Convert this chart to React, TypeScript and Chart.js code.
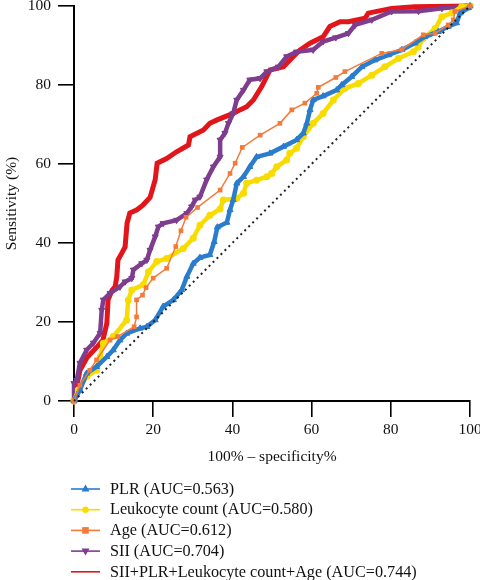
import React, { useEffect, useRef } from "react";
import { Chart, registerables } from "chart.js";

Chart.register(...registerables);

// ---------- data ----------
const plrX = [0, 1.5, 3.2, 5.7, 8.3, 9.9, 11.6, 13.3, 16.7, 18.4, 20.5, 22.5, 25.1, 27.2, 28.5, 30.1, 31.8, 34.3, 35.4, 36.2, 38.6, 39.4, 40.2, 41.1, 42.8, 44.4, 46.1, 49.5, 52.9, 56.2, 57.9, 58.8, 59.6, 60.4, 62.9, 66.3, 67.6, 70.1, 72.7, 76, 79.4, 82.8, 86.1, 88.6, 92, 94.5, 96.6, 97.5, 99.6, 100];
const plrY = [0, 2.8, 7, 8.7, 11.2, 12.9, 15.4, 17.1, 18.4, 18.8, 20.5, 23.9, 25.6, 28.1, 31.5, 34.8, 36.3, 37, 40.3, 44, 45.2, 48.4, 50.9, 55.1, 56.8, 59.3, 61.8, 62.7, 64.4, 66.1, 67.8, 70.3, 73.7, 76.2, 77.2, 78.7, 80, 82.1, 84.6, 86.3, 87.6, 88.9, 90.6, 92.2, 93.5, 94.8, 95.7, 98.2, 99.5, 100];

const leukX = [0, 1.1, 3.2, 5.7, 6.6, 7.4, 9.9, 13.3, 13.7, 14.6, 17.5, 18.8, 20.9, 23.4, 27.6, 30.1, 31.8, 34.3, 36.9, 37.7, 41.1, 42.8, 43.6, 46.1, 48.7, 49.9, 51.2, 53.7, 54.5, 56.2, 57.9, 60.4, 62.9, 65.5, 68.4, 71.8, 75.2, 78.5, 81.9, 85.7, 86.9, 88.2, 91.2, 92.9, 95.4, 97.9, 100];
const leukY = [0, 2.8, 6.2, 7.8, 11.2, 14.6, 16.3, 20.5, 25.6, 28.1, 29.4, 32.7, 35.3, 36.1, 38.6, 41.2, 44.5, 47, 48.6, 50.9, 51.3, 52.6, 55.1, 55.9, 56.8, 57.6, 59.3, 61, 62.7, 64, 66.9, 70.3, 72.8, 76.2, 79.1, 80.4, 82.5, 84.6, 86.7, 88.4, 89.6, 91.8, 94.3, 97.3, 98.2, 99.8, 100];

const ageX = [0, 1.5, 4, 5.7, 9.1, 11, 15.2, 15.8, 15.8, 17.3, 18.2, 20, 23.4, 25.7, 27, 28.3, 31.2, 36.9, 39.4, 40.7, 42.5, 47, 52, 55, 58.3, 61.3, 61.7, 66.1, 68.4, 77.7, 82.8, 88.2, 91.2, 94.5, 95.8, 96.2, 100];
const ageY = [0, 4, 7.8, 10.4, 15.4, 16.3, 18.8, 21.3, 25.6, 26.8, 28.7, 31.1, 33.6, 39.1, 43.1, 46.5, 49, 53.4, 57.6, 60.2, 64.2, 67.3, 70.3, 73.7, 75.4, 77.9, 79.4, 81.9, 83.4, 88, 89, 92.7, 93.1, 95.2, 96.5, 98.6, 100];

const siiX = [0, 0, 0.7, 1.5, 3.2, 4.9, 6.6, 7, 7.4, 9.1, 11.6, 12.9, 14.6, 15, 17.1, 18.4, 19.2, 20.5, 21.3, 22.5, 25.9, 28.5, 29.7, 30.6, 31.8, 33.5, 35.2, 36.9, 36.9, 38.1, 39, 40.2, 41.1, 42.8, 44.4, 47, 48.7, 51.6, 53.7, 56.2, 60.4, 62.9, 66.1, 69.3, 71, 75.2, 80.2, 87, 92.9, 99.5, 100];
const siiY = [0, 4.5, 5.3, 9.6, 12.9, 14.7, 17.2, 23, 25.6, 27.3, 28.9, 30.2, 31.1, 33.2, 34.8, 35.7, 38.2, 41.6, 44.1, 45, 45.8, 47.5, 49.2, 50.9, 51.7, 56, 59.3, 61.8, 66.1, 67.8, 70.3, 72.8, 76.2, 78.7, 81.3, 81.7, 83.4, 84.6, 87.2, 88.4, 88.9, 91, 92, 93.1, 95.2, 96.5, 98.6, 98.7, 99.4, 100, 100];

const comboX = [0, 1.5, 3.3, 5.8, 7.3, 8.3, 8.6, 9.6, 10.4, 10.8, 11.1, 12.1, 12.9, 13.4, 14.1, 15.9, 17.4, 19.2, 20.5, 21, 23.4, 25.9, 28.9, 29.3, 32.7, 34.3, 36, 40.2, 41.9, 43.6, 45.3, 47.4, 49.5, 52.9, 55.4, 57.1, 59.6, 62.9, 64.6, 67.2, 69.3, 73.5, 74.3, 80.2, 86, 100];
const comboY = [0, 7.8, 11, 13.7, 15.4, 19.7, 25.6, 28, 29, 31.4, 35.7, 37.5, 39, 45, 47.6, 48.4, 49.6, 51.5, 56, 60.2, 61.4, 63.1, 64.8, 66.9, 68.6, 70.3, 71.1, 72.8, 73.7, 74.5, 76.2, 79.6, 83.8, 84.6, 87.2, 88.9, 90.6, 92.2, 94.8, 96, 96, 96.9, 98.2, 99.4, 99.8, 100];

const refX = [0, 100];
const refY = [0, 100];

const xTicks = [0, 20, 40, 60, 80, 100];
const yTicks = [0, 20, 40, 60, 80, 100];

const legendLabels = [
  "PLR (AUC=0.563)",
  "Leukocyte count (AUC=0.580)",
  "Age (AUC=0.612)",
  "SII (AUC=0.704)",
  "SII+PLR+Leukocyte count+Age (AUC=0.744)",
];

const BLUE = "#2a7ccc";
const YELLOW = "#f8dc00";
const ORANGE = "#f47a3a";
const PURPLE = "#7e3d8e";
const RED = "#e2151b";

const FONT = "'Liberation Serif', 'Times New Roman', serif";

const zip = (xs: number[], ys: number[]) => xs.map((x, i) => ({ x, y: ys[i] }));

const legendPlugin = {
  id: "customLegend",
  afterDraw(chart: any) {
    const ctx = chart.ctx as CanvasRenderingContext2D;
    const items = [
      { color: BLUE, marker: "triUp" },
      { color: YELLOW, marker: "circle" },
      { color: ORANGE, marker: "square" },
      { color: PURPLE, marker: "triDown" },
      { color: RED, marker: "none" },
    ];
    ctx.save();
    items.forEach((it, i) => {
      const y = 489 + i * 20.7;
      ctx.strokeStyle = it.color;
      ctx.fillStyle = it.color;
      ctx.lineWidth = 1.6;
      ctx.beginPath();
      ctx.moveTo(71, y);
      ctx.lineTo(100, y);
      ctx.stroke();
      const cx = 85.5;
      ctx.beginPath();
      if (it.marker === "triUp") {
        ctx.moveTo(cx, y - 4.5);
        ctx.lineTo(cx + 4, y + 2.5);
        ctx.lineTo(cx - 4, y + 2.5);
        ctx.closePath();
        ctx.fill();
      } else if (it.marker === "triDown") {
        ctx.moveTo(cx, y + 4.5);
        ctx.lineTo(cx + 4, y - 2.5);
        ctx.lineTo(cx - 4, y - 2.5);
        ctx.closePath();
        ctx.fill();
      } else if (it.marker === "circle") {
        ctx.arc(cx, y, 3.2, 0, Math.PI * 2);
        ctx.fill();
      } else if (it.marker === "square") {
        ctx.fillRect(cx - 3.3, y - 3.3, 6.6, 6.6);
      }
      ctx.fillStyle = "#111";
      ctx.font = `16.2px ${FONT}`;
      ctx.textBaseline = "middle";
      ctx.textAlign = "left";
      ctx.fillText(legendLabels[i], 110, y + 0.5);
    });
    ctx.restore();
  },
};

export default function App() {
  const canvasRef = useRef<HTMLCanvasElement | null>(null);

  useEffect(() => {
    if (!canvasRef.current) return;
    const chart = new Chart(canvasRef.current, {
      type: "line",
      data: {
        datasets: [
          {
            label: "Reference",
            data: zip(refX, refY),
            borderColor: "#222",
            borderWidth: 2,
            borderDash: [2, 3.6],
            pointRadius: 0,
            order: 0,
            clip: false,
          } as any,
          {
            label: legendLabels[2],
            data: zip(ageX, ageY),
            borderColor: ORANGE,
            backgroundColor: ORANGE,
            borderWidth: 1.5,
            pointStyle: "rect",
            pointRadius: 3.3,
            pointBackgroundColor: ORANGE,
            pointBorderColor: ORANGE,
            pointBorderWidth: 0,
            order: 1,
            clip: false,
          },
          {
            label: legendLabels[0],
            data: zip(plrX, plrY),
            borderColor: BLUE,
            backgroundColor: BLUE,
            borderWidth: 4.5,
            pointStyle: "triangle",
            pointRadius: 3.5,
            pointBackgroundColor: BLUE,
            pointBorderColor: BLUE,
            pointBorderWidth: 1,
            order: 2,
            clip: false,
          },
          {
            label: legendLabels[1],
            data: zip(leukX, leukY),
            borderColor: YELLOW,
            backgroundColor: YELLOW,
            borderWidth: 4.5,
            pointStyle: "circle",
            pointRadius: 3.5,
            pointBackgroundColor: YELLOW,
            pointBorderColor: YELLOW,
            pointBorderWidth: 0,
            order: 3,
            clip: false,
          },
          {
            label: legendLabels[3],
            data: zip(siiX, siiY),
            borderColor: PURPLE,
            backgroundColor: PURPLE,
            borderWidth: 4.5,
            pointStyle: "triangle",
            pointRotation: 180,
            pointRadius: 3.5,
            pointBackgroundColor: PURPLE,
            pointBorderColor: PURPLE,
            pointBorderWidth: 1,
            order: 4,
            clip: false,
          },
          {
            label: legendLabels[4],
            data: zip(comboX, comboY),
            borderColor: RED,
            backgroundColor: RED,
            borderWidth: 5,
            pointRadius: 0,
            order: 5,
            clip: false,
          },
        ],
      },
      options: {
        responsive: false,
        maintainAspectRatio: false,
        animation: false,
        layout: { padding: { left: 0, top: 6, right: 10, bottom: 114 } },
        plugins: {
          legend: { display: false },
          tooltip: { enabled: false },
        },
        elements: { line: { tension: 0 } },
        scales: {
          x: {
            type: "linear",
            min: 0,
            max: 100,
            afterBuildTicks: (scale: any) => {
              scale.ticks = xTicks.map((v) => ({ value: v }));
            },
            afterFit: (scale: any) => {
              scale.height = 65;
              scale.paddingLeft = 0;
              scale.paddingRight = 0;
            },
            ticks: {
              color: "#111",
              font: { family: FONT, size: 15.5 },
              padding: 4,
              maxRotation: 0,
              autoSkip: false,
            },
            grid: {
              display: true,
              drawOnChartArea: false,
              drawTicks: true,
              tickLength: 16,
              color: "#000",
              lineWidth: 1.6,
            },
            border: { display: true, color: "#000", width: 2 },
            title: {
              display: true,
              text: "100% \u2013 specificity%",
              color: "#111",
              font: { family: FONT, size: 15.5 },
              padding: { top: 0, bottom: 0 },
            },
          },
          y: {
            type: "linear",
            min: 0,
            max: 100,
            afterBuildTicks: (scale: any) => {
              scale.ticks = yTicks.map((v) => ({ value: v }));
            },
            afterFit: (scale: any) => {
              scale.width = 74;
              scale.paddingTop = 0;
              scale.paddingBottom = 0;
            },
            ticks: {
              color: "#111",
              font: { family: FONT, size: 15.5 },
              padding: 7,
              autoSkip: false,
            },
            grid: {
              display: true,
              drawOnChartArea: false,
              drawTicks: true,
              tickLength: 16,
              color: "#000",
              lineWidth: 1.6,
            },
            border: { display: true, color: "#000", width: 2 },
            title: {
              display: true,
              text: "Sensitivity (%)",
              color: "#111",
              font: { family: FONT, size: 15.5 },
              padding: { top: 3, bottom: 0 },
            },
          },
        },
      },
      plugins: [legendPlugin],
    });
    return () => chart.destroy();
  }, []);

  return (
    <div style={{ position: "fixed", left: 0, top: 0, width: 480, height: 580, background: "#fff" }}>
      <canvas ref={canvasRef} width={480} height={580} style={{ width: 480, height: 580, display: "block" }} />
    </div>
  );
}
